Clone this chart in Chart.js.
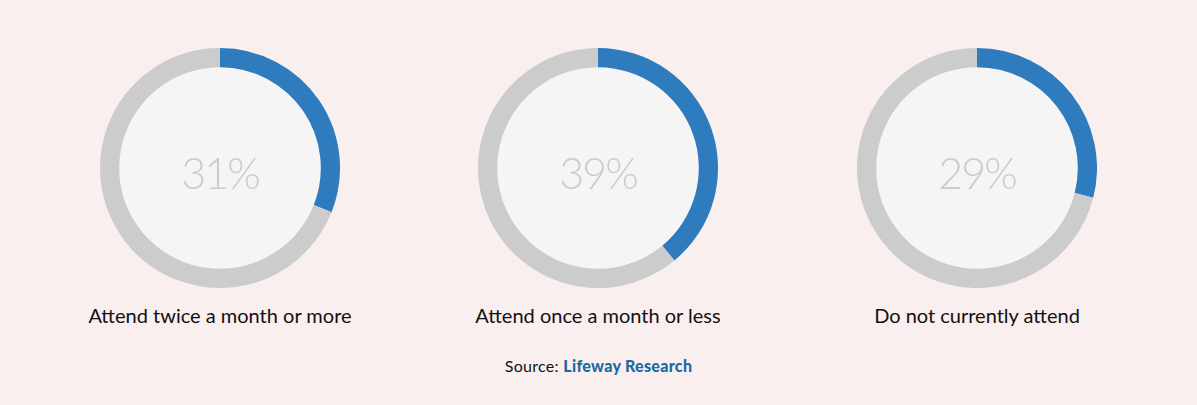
<!DOCTYPE html>
<html>
<head>
<meta charset="utf-8">
<script src="https://cdn.jsdelivr.net/npm/chart.js@4"></script>
<style>
  html, body { margin: 0; padding: 0; }
  body {
    width: 1197px; height: 405px; background: #f9efee;
    position: relative; overflow: hidden;
    font-family: "Lato", "Noto Sans", sans-serif;
  }
  .donut { position: absolute; top: 48px; width: 240px; height: 240px; }
  .donut canvas { position: absolute; left: 0; top: 0; }
  .pct {
    position: absolute; left: 0; top: 5px; width: 240px; height: 240px;
    line-height: 240px; text-align: center; font-size: 43px; font-weight: 300;
    color: #cccccc; letter-spacing: -2px;
  }
  .label {
    position: absolute; top: 303px; width: 360px; margin-left: -180px;
    text-align: center; font-size: 20px; color: #111;
  }
  .source {
    position: absolute; top: 356px; left: 0; width: 1197px; text-align: center;
    font-size: 16px; color: #111; letter-spacing: 0.3px;
  }
  .source b { color: #1a6aa3; font-weight: 900; }
</style>
</head>
<body>
<div id="wrap"></div>
<div class="source">Source: <b>Lifeway Research</b></div>
<script>
const categories = ["Attend twice a month or more", "Attend once a month or less", "Do not currently attend"];
const values = [31, 39, 29];
const centers = [220, 598, 977];

const innerFill = {
  id: "innerFill",
  beforeDatasetsDraw(chart) {
    const arc = chart.getDatasetMeta(0).data[0];
    if (!arc) return;
    const ctx = chart.ctx;
    ctx.save();
    ctx.beginPath();
    ctx.arc(arc.x, arc.y, arc.innerRadius, 0, Math.PI * 2);
    ctx.fillStyle = "#f5f5f5";
    ctx.fill();
    ctx.restore();
  }
};

const wrap = document.getElementById("wrap");
categories.forEach((name, i) => {
  const box = document.createElement("div");
  box.className = "donut";
  box.style.left = (centers[i] - 120) + "px";
  const canvas = document.createElement("canvas");
  canvas.width = 240;
  canvas.height = 240;
  box.appendChild(canvas);
  const pct = document.createElement("div");
  pct.className = "pct";
  pct.textContent = values[i] + "%";
  box.appendChild(pct);
  wrap.appendChild(box);

  const label = document.createElement("div");
  label.className = "label";
  label.style.left = centers[i] + "px";
  label.textContent = name;
  wrap.appendChild(label);

  new Chart(canvas.getContext("2d"), {
    type: "doughnut",
    data: {
      labels: [name, "Other"],
      datasets: [{
        data: [values[i], 100 - values[i]],
        backgroundColor: ["#2e7bbd", "#cccccc"],
        borderWidth: 0
      }]
    },
    options: {
      responsive: false,
      animation: false,
      cutout: "84%",
      layout: { padding: 0 },
      plugins: { legend: { display: false }, tooltip: { enabled: false } }
    },
    plugins: [innerFill]
  });
});
</script>
</body>
</html>
